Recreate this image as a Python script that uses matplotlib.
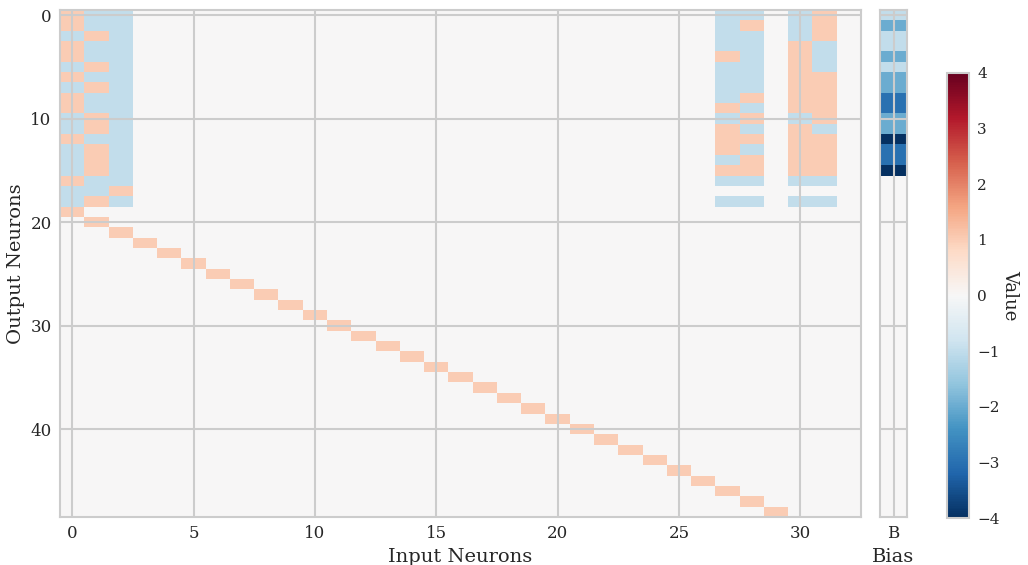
import numpy as np
import matplotlib.pyplot as plt

n_out = 49
n_in = 33

# weights for the first rows (0..18) of the dense input columns
col0 = [1, 1, -1, 1, 1, -1, 1, -1, 1, 1, -1, -1, 1, -1, -1, -1, 1, -1, -1]
col1 = [-1, -1, 1, -1, -1, 1, -1, 1, -1, -1, 1, 1, -1, 1, 1, 1, -1, -1, 1]
col2 = [-1, -1, -1, -1, -1, -1, -1, -1, -1, -1, -1, -1, -1, -1, -1, -1, -1, 1, -1]
col27 = [-1, -1, -1, -1, 1, -1, -1, -1, -1, 1, -1, 1, 1, 1, -1, 1, -1, 0, -1]
col28 = [-1, 1, -1, -1, -1, -1, -1, -1, 1, -1, 1, -1, 1, -1, 1, 1, -1, 0, -1]
col30 = [-1, -1, -1, 1, 1, 1, 1, 1, 1, 1, -1, 1, 1, 1, 1, 1, -1, 0, -1]
col31 = [1, 1, 1, -1, -1, -1, 1, 1, 1, 1, 1, -1, 1, 1, 1, 1, -1, 0, -1]

# identity part: output 19+i <- input i
diag_start = 19
diag_vals = [1] * 30

bias = [-1, -2, -1, -1, -2, -1, -2, -2, -3, -3, -2, -2, -4, -3, -3, -4]

W = np.zeros((n_out, n_in))
for c, vals in [(0, col0), (1, col1), (2, col2), (27, col27),
                (28, col28), (30, col30), (31, col31)]:
    W[:len(vals), c] = vals
for i, v in enumerate(diag_vals):
    W[diag_start + i, i] = v

B = np.zeros((n_out, 1))
B[:len(bias), 0] = bias

plt.rcParams['font.family'] = ['DejaVu Serif']
plt.rcParams['text.color'] = '#262626'
plt.rcParams['axes.labelcolor'] = '#262626'
plt.rcParams['xtick.color'] = '#262626'
plt.rcParams['ytick.color'] = '#262626'

W_px, H_px = 1028, 565
fig = plt.figure(figsize=(W_px / 100, H_px / 100), dpi=100)

def box(x0, y0, x1, y1):
    return [x0 / W_px, 1 - y1 / H_px, (x1 - x0) / W_px, (y1 - y0) / H_px]

ax = fig.add_axes(box(60, 10, 861, 517))
axb = fig.add_axes(box(880, 10, 907, 517))
cax = fig.add_axes(box(947, 73, 969, 518))

im = ax.imshow(W, cmap='RdBu_r', vmin=-4, vmax=4, aspect='auto',
               interpolation='nearest')
axb.imshow(B, cmap='RdBu_r', vmin=-4, vmax=4, aspect='auto',
           interpolation='nearest')

for a in (ax, axb):
    a.grid(True, color='#cccccc', linewidth=1.5)
    for s in a.spines.values():
        s.set_color('#cccccc')
        s.set_linewidth(1.5)
    a.tick_params(length=0, labelsize=12, pad=6)

ax.set_xticks(range(0, 31, 5))
ax.set_yticks(range(0, 41, 10))
ax.set_xlabel('Input Neurons', fontsize=14, labelpad=4)
ax.set_ylabel('Output Neurons', fontsize=14, labelpad=4)

axb.set_xticks([0])
axb.set_xticklabels(['B'])
axb.set_yticks(range(0, 41, 10))
axb.set_yticklabels([])
axb.set_xlabel('Bias', fontsize=14, labelpad=4)

cb = fig.colorbar(im, cax=cax)
cb.outline.set_edgecolor('#cccccc')
cb.outline.set_linewidth(1.5)
cb.set_ticks(range(-4, 5))
cax.tick_params(length=0, labelsize=11, pad=6)
cb.set_label('Value', rotation=270, fontsize=13, labelpad=14)

fig.savefig('out.png', dpi=100)
